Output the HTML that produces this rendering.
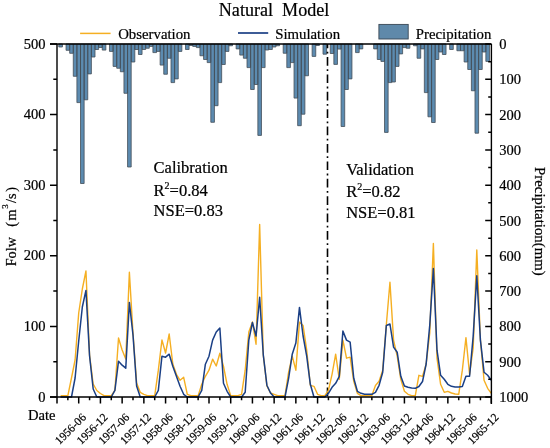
<!DOCTYPE html>
<html><head><meta charset="utf-8"><style>
html,body{margin:0;padding:0;background:#fff;}
svg{display:block;will-change:transform;}
text{fill:#000;stroke:#000;stroke-width:0.22px;}
</style></head><body>
<svg width="550" height="448" viewBox="0 0 550 448"><path d="M58.81 44h3.62V47h-3.62ZM66.05 44h3.62V50.3h-3.62ZM69.67 44h3.62V53.3h-3.62ZM73.29 44h3.62V76.3h-3.62ZM76.9 44h3.62V102.6h-3.62ZM80.52 44h3.62V183.5h-3.62ZM84.14 44h3.62V99.8h-3.62ZM87.76 44h3.62V73.9h-3.62ZM91.38 44h3.62V57h-3.62ZM95 44h3.62V49.5h-3.62ZM98.62 44h3.62V47.5h-3.62ZM102.24 44h3.62V50.1h-3.62ZM109.48 44h3.62V51.4h-3.62ZM113.09 44h3.62V66.4h-3.62ZM116.71 44h3.62V68.25h-3.62ZM120.33 44h3.62V71.75h-3.62ZM123.95 44h3.62V93.3h-3.62ZM127.57 44h3.62V167h-3.62ZM131.19 44h3.62V62h-3.62ZM134.81 44h3.62V49.5h-3.62ZM138.43 44h3.62V54.5h-3.62ZM142.05 44h3.62V49.5h-3.62ZM145.67 44h3.62V48.25h-3.62ZM149.28 44h3.62V46.4h-3.62ZM152.9 44h3.62V52.6h-3.62ZM156.52 44h3.62V51.4h-3.62ZM160.14 44h3.62V65.1h-3.62ZM163.76 44h3.62V74.25h-3.62ZM167.38 44h3.62V58.25h-3.62ZM171 44h3.62V82.6h-3.62ZM174.62 44h3.62V78.9h-3.62ZM178.24 44h3.62V51.4h-3.62ZM185.47 44h3.62V49.5h-3.62ZM189.09 44h3.62V45.5h-3.62ZM192.71 44h3.62V46.4h-3.62ZM196.33 44h3.62V47.6h-3.62ZM199.95 44h3.62V55.75h-3.62ZM203.57 44h3.62V59.5h-3.62ZM207.19 44h3.62V62.6h-3.62ZM210.81 44h3.62V122.3h-3.62ZM214.43 44h3.62V105.7h-3.62ZM218.05 44h3.62V82.6h-3.62ZM221.66 44h3.62V64.5h-3.62ZM225.28 44h3.62V51.4h-3.62ZM228.9 44h3.62V45.75h-3.62ZM236.14 44h3.62V48.9h-3.62ZM239.76 44h3.62V55.1h-3.62ZM243.38 44h3.62V58.25h-3.62ZM247 44h3.62V67.6h-3.62ZM250.62 44h3.62V89.5h-3.62ZM254.24 44h3.62V84.5h-3.62ZM257.85 44h3.62V135.4h-3.62ZM261.47 44h3.62V67.6h-3.62ZM265.09 44h3.62V50h-3.62ZM268.71 44h3.62V49.5h-3.62ZM272.33 44h3.62V47h-3.62ZM275.95 44h3.62V45.75h-3.62ZM283.19 44h3.62V53.25h-3.62ZM286.81 44h3.62V67.6h-3.62ZM290.43 44h3.62V62.6h-3.62ZM294.04 44h3.62V98.1h-3.62ZM297.66 44h3.62V125.7h-3.62ZM301.28 44h3.62V114.2h-3.62ZM304.9 44h3.62V75.75h-3.62ZM312.14 44h3.62V56.4h-3.62ZM315.76 44h3.62V45.5h-3.62ZM323 44h3.62V54.2h-3.62ZM330.23 44h3.62V53.5h-3.62ZM333.85 44h3.62V64.4h-3.62ZM337.47 44h3.62V49.1h-3.62ZM341.09 44h3.62V126.5h-3.62ZM344.71 44h3.62V89.5h-3.62ZM348.33 44h3.62V78.9h-3.62ZM355.57 44h3.62V52.6h-3.62ZM359.19 44h3.62V48.9h-3.62ZM373.66 44h3.62V48.9h-3.62ZM377.28 44h3.62V59.5h-3.62ZM380.9 44h3.62V61.4h-3.62ZM384.52 44h3.62V132.4h-3.62ZM388.14 44h3.62V82.6h-3.62ZM391.76 44h3.62V82h-3.62ZM395.38 44h3.62V66.4h-3.62ZM399 44h3.62V53.9h-3.62ZM402.61 44h3.62V47.6h-3.62ZM406.23 44h3.62V48.25h-3.62ZM413.47 44h3.62V45.75h-3.62ZM417.09 44h3.62V58.25h-3.62ZM420.71 44h3.62V48.9h-3.62ZM424.33 44h3.62V92.6h-3.62ZM427.95 44h3.62V116.8h-3.62ZM431.57 44h3.62V122.5h-3.62ZM435.19 44h3.62V59.5h-3.62ZM438.8 44h3.62V52h-3.62ZM442.42 44h3.62V54.5h-3.62ZM449.66 44h3.62V49.5h-3.62ZM456.9 44h3.62V50.75h-3.62ZM460.52 44h3.62V50.75h-3.62ZM464.14 44h3.62V62h-3.62ZM467.76 44h3.62V69.5h-3.62ZM471.38 44h3.62V90.75h-3.62ZM474.99 44h3.62V133.2h-3.62ZM478.61 44h3.62V69.5h-3.62ZM482.23 44h3.62V52h-3.62ZM485.85 44h3.62V61.4h-3.62Z" fill="#5c8bb0" stroke="#444e58" stroke-width="0.8"/>
<line x1="327.5" y1="44" x2="327.5" y2="397" stroke="#000" stroke-width="1.6" stroke-dasharray="8.7 3.5 1.8 3.4" stroke-dashoffset="4.4"/>
<polyline points="60.62,395.6 64.24,395.6 67.86,395.6 71.48,378 75.09,360 78.71,313 82.33,289 85.95,271 89.57,355 93.19,384 96.81,390.5 100.43,393.5 104.05,395.6 107.67,395.6 111.28,395.6 114.9,390.3 118.52,338 122.14,350 125.76,359 129.38,272.3 133,333 136.62,383 140.24,392.3 143.86,394.3 147.48,395.6 151.09,395.6 154.71,395.6 158.33,370.2 161.95,340 165.57,353 169.19,334 172.81,364 176.43,374.3 180.05,380.3 183.67,377.3 187.28,394.3 190.9,395.6 194.52,395.6 198.14,395.6 201.76,384.3 205.38,376.3 209,370.2 212.62,359.2 216.24,366 219.86,353.2 223.47,366.2 227.09,384.3 230.71,395.6 234.33,395.6 237.95,395.6 241.57,394.3 245.19,370.2 248.81,332.1 252.43,322 256.05,344.2 259.66,224.5 263.28,355 266.9,386 270.52,393 274.14,394.3 277.76,395.6 281.38,395.6 285,395.6 288.62,372.2 292.24,356.2 295.85,370.2 299.47,322.1 303.09,325.5 306.71,350.2 310.33,385.3 313.95,386.3 317.57,394.3 321.19,395.6 324.81,395.6 328.43,390.3 332.04,374.3 335.66,354.2 339.28,379.3 342.9,340.1 346.52,358.2 350.14,357.2 353.76,381.3 357.38,393.3 361,395.6 364.62,395.6 368.23,395.6 371.85,395.6 375.47,385.5 379.09,381.3 382.71,370.2 386.33,324.7 389.95,282.2 393.57,340.1 397.19,356.2 400.81,379.3 404.42,391.3 408.04,394.3 411.66,395.6 415.28,395.6 418.9,375.3 422.52,376.3 426.14,364.2 429.76,333 433.38,243.5 437,358.2 440.61,384.3 444.23,392.3 447.85,391.3 451.47,393 455.09,394 458.71,394.3 462.33,370.2 465.95,337.6 469.57,374.3 473.19,348 476.8,250 480.42,340 484.04,380.3 487.66,388.3 491.28,393.3" fill="none" stroke="#f5af22" stroke-width="1.4" stroke-linejoin="round"/>
<polyline points="60.62,397 64.24,397 67.86,397 71.48,397 75.09,378 78.71,341 82.33,307 85.95,290.4 89.57,356 93.19,389 96.81,397 100.43,397 104.05,397 107.67,397 111.28,397 114.9,390.3 118.52,361.2 122.14,365.2 125.76,368.2 129.38,302.4 133,335 136.62,386 140.24,397 143.86,397 147.48,397 151.09,397 154.71,397 158.33,390.3 161.95,356.2 165.57,357.2 169.19,354.2 172.81,366.2 176.43,376.3 180.05,386.3 183.67,394.3 187.28,397 190.9,397 194.52,397 198.14,397 201.76,390.3 205.38,364.2 209,356.2 212.62,340.1 216.24,332 219.86,328 223.47,383.3 227.09,391.3 230.71,397 234.33,397 237.95,397 241.57,397 245.19,392.3 248.81,340.1 252.43,322.5 256.05,336 259.66,297.2 263.28,354.8 266.9,385.2 270.52,393 274.14,397 277.76,397 281.38,397 285,397 288.62,378.3 292.24,354.2 295.85,343.1 299.47,307.4 303.09,336 306.71,356.2 310.33,384.3 313.95,397 317.57,397 321.19,397 324.81,397 328.43,393.3 332.04,387.3 335.66,383.3 339.28,376.3 342.9,331.1 346.52,340.1 350.14,342.1 353.76,378.3 357.38,391.3 361,393.3 364.62,394.3 368.23,394.3 371.85,394.3 375.47,392.3 379.09,385.3 382.71,372.2 386.33,325.5 389.95,324 393.57,347.1 397.19,352.2 400.81,376.3 404.42,386 408.04,387.3 411.66,388 415.28,388.3 418.9,386.5 422.52,381.5 426.14,364 429.76,325 433.38,268.5 437,350.2 440.61,375.3 444.23,379.3 447.85,384.3 451.47,386.3 455.09,386.9 458.71,386.9 462.33,386.5 465.95,376.3 469.57,376.3 473.19,336.1 476.8,275.7 480.42,340.1 484.04,372.2 487.66,375.3 491.28,380.3" fill="none" stroke="#1a3f85" stroke-width="1.5" stroke-linejoin="round"/>
<path d="M50 44H491.4M57 44V397M491.4 44V404M50 397H491.4" fill="none" stroke="#000" stroke-width="1.4"/>
<path d="M50 44H57M53.3 79.3H57M50 114.6H57M53.3 149.9H57M50 185.2H57M53.3 220.5H57M50 255.8H57M53.3 291.1H57M50 326.4H57M53.3 361.7H57M50 397H57M485.2 44H491.4M488.2 61.65H491.4M485.2 79.3H491.4M488.2 96.95H491.4M485.2 114.6H491.4M488.2 132.25H491.4M485.2 149.9H491.4M488.2 167.55H491.4M485.2 185.2H491.4M488.2 202.85H491.4M485.2 220.5H491.4M488.2 238.15H491.4M485.2 255.8H491.4M488.2 273.45H491.4M485.2 291.1H491.4M488.2 308.75H491.4M485.2 326.4H491.4M488.2 344.05H491.4M485.2 361.7H491.4M488.2 379.35H491.4M485.2 397H491.4M57 397V403.5M67.86 397V400.3M78.71 397V403.5M89.57 397V400.3M100.43 397V403.5M111.28 397V400.3M122.14 397V403.5M133 397V400.3M143.86 397V403.5M154.71 397V400.3M165.57 397V403.5M176.43 397V400.3M187.28 397V403.5M198.14 397V400.3M209 397V403.5M219.86 397V400.3M230.71 397V403.5M241.57 397V400.3M252.43 397V403.5M263.28 397V400.3M274.14 397V403.5M285 397V400.3M295.85 397V403.5M306.71 397V400.3M317.57 397V403.5M328.43 397V400.3M339.28 397V403.5M350.14 397V400.3M361 397V403.5M371.85 397V400.3M382.71 397V403.5M393.57 397V400.3M404.42 397V403.5M415.28 397V400.3M426.14 397V403.5M437 397V400.3M447.85 397V403.5M458.71 397V400.3M469.57 397V403.5M480.42 397V400.3M491.28 397V403.5" fill="none" stroke="#000" stroke-width="1.5"/>
<text x="45.5" y="401.5" text-anchor="end" font-size="14.5" font-family="Liberation Serif">0</text>
<text x="45.5" y="330.9" text-anchor="end" font-size="14.5" font-family="Liberation Serif">100</text>
<text x="45.5" y="260.3" text-anchor="end" font-size="14.5" font-family="Liberation Serif">200</text>
<text x="45.5" y="189.7" text-anchor="end" font-size="14.5" font-family="Liberation Serif">300</text>
<text x="45.5" y="119.1" text-anchor="end" font-size="14.5" font-family="Liberation Serif">400</text>
<text x="45.5" y="48.5" text-anchor="end" font-size="14.5" font-family="Liberation Serif">500</text>
<text x="499.3" y="49" font-size="14.5" font-family="Liberation Serif">0</text>
<text x="499.3" y="84.3" font-size="14.5" font-family="Liberation Serif">100</text>
<text x="499.3" y="119.6" font-size="14.5" font-family="Liberation Serif">200</text>
<text x="499.3" y="154.9" font-size="14.5" font-family="Liberation Serif">300</text>
<text x="499.3" y="190.2" font-size="14.5" font-family="Liberation Serif">400</text>
<text x="499.3" y="225.5" font-size="14.5" font-family="Liberation Serif">500</text>
<text x="499.3" y="260.8" font-size="14.5" font-family="Liberation Serif">600</text>
<text x="499.3" y="296.1" font-size="14.5" font-family="Liberation Serif">700</text>
<text x="499.3" y="331.4" font-size="14.5" font-family="Liberation Serif">800</text>
<text x="499.3" y="366.7" font-size="14.5" font-family="Liberation Serif">900</text>
<text x="499.3" y="402" font-size="14.5" font-family="Liberation Serif">1000</text>
<text transform="translate(86.71 418) rotate(-45)" text-anchor="end" font-size="11.5" font-family="Liberation Serif">1956-06</text>
<text transform="translate(108.43 418) rotate(-45)" text-anchor="end" font-size="11.5" font-family="Liberation Serif">1956-12</text>
<text transform="translate(130.14 418) rotate(-45)" text-anchor="end" font-size="11.5" font-family="Liberation Serif">1957-06</text>
<text transform="translate(151.86 418) rotate(-45)" text-anchor="end" font-size="11.5" font-family="Liberation Serif">1957-12</text>
<text transform="translate(173.57 418) rotate(-45)" text-anchor="end" font-size="11.5" font-family="Liberation Serif">1958-06</text>
<text transform="translate(195.28 418) rotate(-45)" text-anchor="end" font-size="11.5" font-family="Liberation Serif">1958-12</text>
<text transform="translate(217 418) rotate(-45)" text-anchor="end" font-size="11.5" font-family="Liberation Serif">1959-06</text>
<text transform="translate(238.71 418) rotate(-45)" text-anchor="end" font-size="11.5" font-family="Liberation Serif">1959-12</text>
<text transform="translate(260.43 418) rotate(-45)" text-anchor="end" font-size="11.5" font-family="Liberation Serif">1960-06</text>
<text transform="translate(282.14 418) rotate(-45)" text-anchor="end" font-size="11.5" font-family="Liberation Serif">1960-12</text>
<text transform="translate(303.85 418) rotate(-45)" text-anchor="end" font-size="11.5" font-family="Liberation Serif">1961-06</text>
<text transform="translate(325.57 418) rotate(-45)" text-anchor="end" font-size="11.5" font-family="Liberation Serif">1961-12</text>
<text transform="translate(347.28 418) rotate(-45)" text-anchor="end" font-size="11.5" font-family="Liberation Serif">1962-06</text>
<text transform="translate(369 418) rotate(-45)" text-anchor="end" font-size="11.5" font-family="Liberation Serif">1962-12</text>
<text transform="translate(390.71 418) rotate(-45)" text-anchor="end" font-size="11.5" font-family="Liberation Serif">1963-06</text>
<text transform="translate(412.42 418) rotate(-45)" text-anchor="end" font-size="11.5" font-family="Liberation Serif">1963-12</text>
<text transform="translate(434.14 418) rotate(-45)" text-anchor="end" font-size="11.5" font-family="Liberation Serif">1964-06</text>
<text transform="translate(455.85 418) rotate(-45)" text-anchor="end" font-size="11.5" font-family="Liberation Serif">1964-12</text>
<text transform="translate(477.57 418) rotate(-45)" text-anchor="end" font-size="11.5" font-family="Liberation Serif">1965-06</text>
<text transform="translate(499.28 418) rotate(-45)" text-anchor="end" font-size="11.5" font-family="Liberation Serif">1965-12</text>
<text x="27.9" y="420.1" font-size="14.6" font-family="Liberation Serif">Date</text>
<text x="218.8" y="15.6" font-size="18.1" font-family="Liberation Serif">Natural&#160; Model</text>
<line x1="80.1" y1="33.4" x2="110.6" y2="33.4" stroke="#f5af22" stroke-width="1.5"/>
<text x="118.2" y="38.8" font-size="14.8" font-family="Liberation Serif">Observation</text>
<line x1="238" y1="33" x2="268.2" y2="33" stroke="#1a3f85" stroke-width="1.7"/>
<text x="275.2" y="38.8" font-size="14.8" font-family="Liberation Serif">Simulation</text>
<rect x="378.9" y="24.4" width="29.3" height="14.6" fill="#5f89aa" stroke="#3a4855" stroke-width="0.9"/>
<text x="415.8" y="38.8" font-size="14.8" font-family="Liberation Serif">Precipitation</text>
<text x="153.6" y="172.9" font-size="16.5" font-family="Liberation Serif">Calibration</text>
<text x="153.6" y="196.3" font-size="16.5" font-family="Liberation Serif">R<tspan font-size="10" dy="-7">2</tspan><tspan dy="7">=0.84</tspan></text>
<text x="153.6" y="216" font-size="16.5" font-family="Liberation Serif">NSE=0.83</text>
<text x="346.2" y="174.5" font-size="16.5" font-family="Liberation Serif">Validation</text>
<text x="346.2" y="197" font-size="16.5" font-family="Liberation Serif">R<tspan font-size="10" dy="-7">2</tspan><tspan dy="7">=0.82</tspan></text>
<text x="346.2" y="217.7" font-size="16.5" font-family="Liberation Serif">NSE=0.81</text>
<text transform="translate(15.6 266.3) rotate(-90)" font-size="14.2" font-family="Liberation Serif">Folw<tspan dx="10.3">(</tspan><tspan dx="1.6">m</tspan><tspan font-size="9" dx="0.6" dy="-7.4">3</tspan><tspan dx="1.3" dy="7.4">/</tspan><tspan dx="0.1">s</tspan><tspan dx="1.6">)</tspan></text>
<text transform="translate(535 167.1) rotate(90)" font-size="14.8" font-family="Liberation Serif">Precipitation(mm)</text></svg>
</body></html>
